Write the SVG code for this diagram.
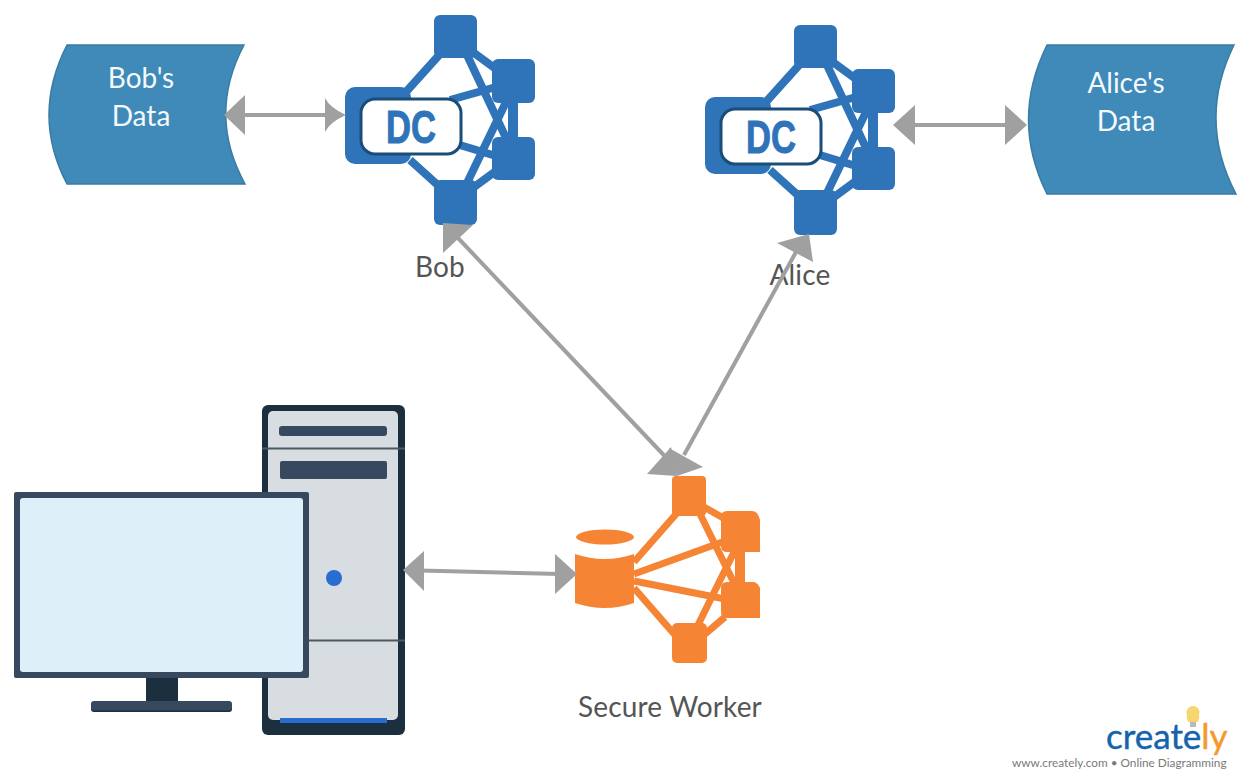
<svg xmlns="http://www.w3.org/2000/svg" width="1241" height="779" viewBox="0 0 1241 779">
<style>
text{font-family:Lato,"Open Sans","Liberation Sans",sans-serif}
.data{fill:#3f8ab8;stroke:#3a7ca3;stroke-width:1.5}
.dt{fill:#f4f9fc;font-size:28px;text-anchor:middle}
.lb{fill:#555;font-size:28px;letter-spacing:.15px;text-anchor:middle}
.bl{stroke:#2f74b9;stroke-width:8;fill:none}
.blf{fill:#2f74b9}
.or{stroke:#f58534;stroke-width:7;fill:none}
.orf{fill:#f58534}
.dc{font-family:"Liberation Sans Narrow","Liberation Sans",sans-serif;font-weight:700;font-size:46px;fill:#2f74b9;stroke:#2f74b9;stroke-width:1;text-anchor:middle}
.ln{stroke:#a0a0a0;stroke-width:4;fill:none}
.hd{fill:#a0a0a0}
.dk{fill:#1c2f3f}
.sl{fill:#36495e}
.sep{stroke:#4a5a60;stroke-width:2}
.blue{fill:#2a6dd0}
</style>
<defs>
<g id="dc-icon">
<path class="bl" d="M405 93L441 53M470 50L500 72M467 55L507 140M467 183L507 100M470 190L500 168M450 100L496 87M450 142L496 156M410 160L441 188"/>
<rect class="blf" x="508" y="95" width="10" height="50"/>
<rect class="blf" x="434" y="15" width="43" height="43" rx="6"/>
<rect class="blf" x="492" y="59" width="43" height="44" rx="6"/>
<rect class="blf" x="492" y="137" width="43" height="43" rx="6"/>
<rect class="blf" x="434" y="180" width="43" height="45" rx="6"/>
<rect class="blf" x="345" y="87" width="66" height="77" rx="10"/>
<rect x="361" y="99" width="100" height="55" rx="14" fill="#fff" stroke="#1a4d78" stroke-width="3"/>
</g>
</defs>
<rect width="1241" height="779" fill="#fff"/>

<g id="bobs-data">
<path class="data" d="M67 45H244Q207 115 245 184H67Q31 115 67 45Z"/>
<text class="dt" x="141" y="88">Bob's</text>
<text class="dt" x="141" y="126">Data</text>
</g>
<g id="alices-data">
<path class="data" d="M1047 45H1234Q1197 120 1236 194H1047Q1010 120 1047 45Z"/>
<text class="dt" x="1126" y="93">Alice's</text>
<text class="dt" x="1126" y="131">Data</text>
</g>
<g id="bob">
<use href="#dc-icon"/>
<text class="dc" x="411" y="143" textLength="50" lengthAdjust="spacingAndGlyphs">DC</text>
<text class="lb" x="440" y="277">Bob</text>
</g>
<g id="alice">
<use href="#dc-icon" x="360" y="10"/>
<text class="dc" x="771" y="153" textLength="50" lengthAdjust="spacingAndGlyphs">DC</text>
<text class="lb" x="800" y="285">Alice</text>
</g>
<g id="secure-worker">
<path class="or" d="M634 562L677 513M634 574L725 541M634 581L725 599M634 588L675 635M700 514L735 585M698 625L735 550M704 507L725 519M705 634L725 617"/>
<rect class="orf" x="735" y="548" width="10" height="38"/>
<rect class="orf" x="672" y="476" width="34" height="40" rx="4"/>
<path class="orf" d="M727 511H752Q758 511 760 520V552H727Q721 552 721 546V517Q721 511 727 511Z"/>
<path class="orf" d="M727 582H754Q758 583 760 588V618H727Q721 618 721 612V588Q721 582 727 582Z"/>
<rect class="orf" x="672" y="623" width="35" height="40" rx="5"/>
<ellipse class="orf" cx="605" cy="537" rx="29" ry="7.5"/>
<path class="orf" d="M575 554Q605 564 634 554V603Q605 613 575 603Z"/>
<text class="lb" x="670" y="717">Secure Worker</text>
</g>
<g id="computer">
<rect class="dk" x="262" y="405" width="143" height="330" rx="6"/>
<rect x="268" y="411" width="130" height="309" rx="5" fill="#d8dde1"/>
<rect class="sl" x="279" y="426" width="108" height="10" rx="3"/>
<rect class="sl" x="280" y="461" width="107" height="18" rx="2"/>
<path class="sep" d="M262 448.500H405M262 640.500H405"/>
<circle class="blue" cx="334" cy="578" r="8"/>
<rect class="blue" x="280" y="718" width="107" height="5"/>
<rect class="dk" x="146" y="676" width="32" height="27"/>
<rect class="dk" x="91" y="703" width="141" height="9" rx="3"/>
<rect class="sl" x="91" y="701" width="141" height="9.500" rx="3"/>
<rect class="sl" x="14" y="492" width="295" height="186" rx="2"/>
<rect x="20" y="498" width="283" height="174" rx="3" fill="#ddf0f9"/>
</g>
<g id="connectors">
<path class="ln" d="M240 115H330"/>
<path class="hd" d="M224 115L245 95V135Z"/>
<path class="hd" d="M346 115Q330 108 325 98V132Q330 122 346 115Z"/>
<path class="ln" d="M910 125H1010"/>
<path class="hd" d="M893 125L915 105V145Z"/>
<path class="hd" d="M1027 125L1005 105V145Z"/>
<path class="ln" d="M458 238L676 468"/>
<path class="hd" d="M443 223L473 225L443 253Z"/>
<path class="ln" d="M796 252L684 455"/>
<path class="hd" d="M809 234L777 243L813 262Z"/>
<path class="hd" d="M677 476L647 474L671 447Z"/>
<path class="hd" d="M677 476L703 467L669 448Z"/>
<path class="ln" d="M420 570.500L560 574"/>
<path class="hd" d="M403 570L424 551V591Z"/>
<path class="hd" d="M577 574L555 554V594Z"/>
</g>
<g id="logo">
<path d="M1188 722Q1186 718 1187 715A6.500 6.500 0 1 1 1199 715Q1200 718 1198 722Z" fill="#f6d66f"/>
<rect x="1190" y="722" width="6" height="5" fill="#b9b9b9"/>
<text x="1106" y="749" style="font-size:35px;stroke-width:.4px" stroke="#1363ad" fill="#1363ad">create<tspan fill="#f39a2b" stroke="#f39a2b">ly</tspan></text>
<text x="1012" y="767" style="font-size:11.800px" fill="#7a7a7a">www.creately.com • Online Diagramming</text>
</g>
</svg>
